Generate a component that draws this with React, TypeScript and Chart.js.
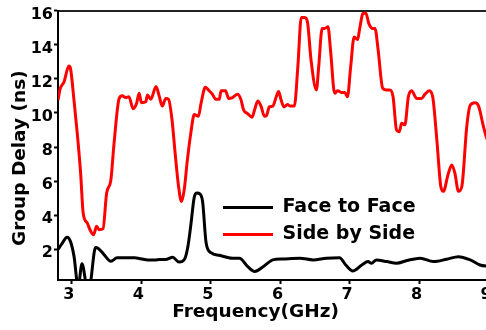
import React, { useEffect, useRef } from 'react';
import { Chart, registerables } from 'chart.js';

Chart.register(...registerables);

const seriesNames = ['Face to Face', 'Side by Side'];

const faceFreq = [2.80, 2.86, 2.93, 2.98, 3.03, 3.09, 3.145, 3.22, 3.25, 3.34, 3.38, 3.46, 3.56, 3.65, 3.75, 3.90, 3.99, 4.09, 4.19, 4.26, 4.37, 4.45, 4.54, 4.62, 4.67, 4.71, 4.76, 4.80, 4.84, 4.88, 4.93, 5.00, 5.12, 5.31, 5.41, 5.53, 5.63, 5.75, 5.89, 6.03, 6.28, 6.47, 6.66, 6.85, 6.94, 7.04, 7.17, 7.26, 7.31, 7.38, 7.53, 7.67, 7.82, 8.01, 8.20, 8.39, 8.56, 8.73, 8.87, 9.00];
const faceDelay = [2.0, 2.35, 2.7, 2.45, 1.6, -0.2, 1.15, -0.2, -0.2, 2.1, 2.05, 1.7, 1.3, 1.5, 1.5, 1.5, 1.45, 1.37, 1.37, 1.4, 1.42, 1.54, 1.25, 1.42, 2.2, 3.4, 5.05, 5.3, 5.25, 4.8, 2.4, 1.8, 1.65, 1.48, 1.48, 0.98, 0.7, 0.98, 1.38, 1.43, 1.48, 1.38, 1.48, 1.51, 1.08, 0.73, 1.08, 1.28, 1.18, 1.38, 1.28, 1.18, 1.34, 1.48, 1.28, 1.42, 1.57, 1.38, 1.08, 1.0];

const sideFreq = [2.80, 2.83, 2.885, 2.957, 2.98, 3.03, 3.077, 3.125, 3.163, 3.22, 3.26, 3.31, 3.356, 3.39, 3.447, 3.50, 3.56, 3.606, 3.68, 3.726, 3.775, 3.82, 3.88, 3.93, 3.967, 4.00, 4.063, 4.087, 4.135, 4.21, 4.255, 4.30, 4.35, 4.39, 4.44, 4.486, 4.534, 4.577, 4.616, 4.66, 4.71, 4.76, 4.82, 4.857, 4.92, 4.975, 5.02, 5.07, 5.12, 5.146, 5.21, 5.255, 5.31, 5.385, 5.434, 5.467, 5.53, 5.593, 5.626, 5.674, 5.72, 5.77, 5.80, 5.84, 5.89, 5.94, 5.973, 6.01, 6.05, 6.10, 6.14, 6.20, 6.25, 6.30, 6.35, 6.39, 6.44, 6.517, 6.55, 6.60, 6.636, 6.684, 6.72, 6.78, 6.82, 6.877, 6.925, 6.964, 7.01, 7.06, 7.11, 7.14, 7.19, 7.23, 7.27, 7.33, 7.36, 7.405, 7.47, 7.517, 7.574, 7.62, 7.67, 7.71, 7.743, 7.79, 7.84, 7.887, 7.96, 8.03, 8.08, 8.14, 8.19, 8.25, 8.306, 8.343, 8.415, 8.465, 8.51, 8.56, 8.61, 8.68, 8.73, 8.80, 8.85, 8.92, 8.96, 9.00];
const sideDelay = [10.75, 11.4, 11.8, 12.75, 12.6, 10.75, 8.8, 6.5, 4.1, 3.55, 3.15, 2.85, 3.35, 3.15, 3.2, 5.3, 6.05, 8.2, 10.85, 11.0, 10.9, 10.95, 10.25, 10.55, 11.15, 10.6, 10.65, 11.05, 10.8, 11.55, 11.0, 10.4, 10.85, 10.8, 9.6, 7.6, 5.7, 4.8, 5.5, 7.2, 8.8, 9.9, 9.8, 10.55, 11.5, 11.3, 11.1, 10.8, 10.8, 11.3, 11.3, 10.85, 10.9, 11.1, 10.75, 10.2, 9.95, 9.75, 10.15, 10.7, 10.4, 9.8, 9.85, 10.35, 10.4, 10.95, 11.25, 10.75, 10.35, 10.5, 10.4, 10.4, 12.7, 15.6, 15.6, 15.3, 13.1, 11.35, 12.7, 14.95, 14.95, 15.05, 13.7, 11.15, 11.3, 11.2, 11.2, 10.95, 12.7, 14.45, 14.3, 14.95, 15.85, 15.85, 15.25, 14.95, 14.95, 13.7, 11.45, 11.35, 11.35, 10.95, 9.0, 8.9, 9.4, 9.3, 10.95, 11.3, 10.85, 10.85, 11.1, 11.3, 10.95, 8.4, 5.7, 5.4, 6.45, 6.95, 6.45, 5.4, 5.7, 9.2, 10.45, 10.6, 10.4, 9.2, 8.6, 8.2];

const xTicks = [3, 4, 5, 6, 7, 8, 9];
const yTicks = [2, 4, 6, 8, 10, 12, 14, 16];
const xTitle = 'Frequency(GHz)';
const yTitle = 'Group Delay (ns)';

const FONT = '"DejaVu Sans", "Liberation Sans", Arial, sans-serif';

const legendPlacer = {
  id: 'legendPlacer',
  afterLayout(chart: any) {
    const l = chart.legend;
    if (!l) return;
    const w = l.width;
    const h = l.height;
    l.left = 215;
    l.top = 190;
    l.right = l.left + w;
    l.bottom = l.top + h;
  },
};

export default function App() {
  const ref = useRef<HTMLCanvasElement | null>(null);
  useEffect(() => {
    if (!ref.current) return;
    const toPts = (xs: number[], ys: number[]) => xs.map((x, i) => ({ x, y: ys[i] }));
    const chart = new Chart(ref.current, {
      type: 'line',
      data: {
        datasets: [
          {
            label: seriesNames[0],
            data: toPts(faceFreq, faceDelay),
            borderColor: '#000000',
            backgroundColor: '#000000',
            borderWidth: 3,
            pointRadius: 0,
            cubicInterpolationMode: 'monotone',
            clip: 0,
          },
          {
            label: seriesNames[1],
            data: toPts(sideFreq, sideDelay),
            borderColor: '#ff0000',
            backgroundColor: '#ff0000',
            borderWidth: 3,
            pointRadius: 0,
            cubicInterpolationMode: 'monotone',
            clip: 0,
          },
        ],
      },
      options: {
        responsive: false,
        animation: false,
        events: [],
        layout: { padding: { top: 10, right: 7, left: 0, bottom: 0 } },
        plugins: {
          tooltip: { enabled: false },
          legend: {
            position: 'chartArea',
            align: 'start',
            labels: {
              usePointStyle: true,
              pointStyle: 'line',
              pointStyleWidth: 50,
              padding: 8,
              color: '#000',
              font: { family: FONT, size: 19, weight: 'bold' },
            },
          },
        },
        scales: {
          x: {
            type: 'linear',
            position: 'bottom',
            min: 2.8,
            max: 9,
            afterBuildTicks: (s: any) => { s.ticks = xTicks.map((v) => ({ value: v })); },
            afterFit: (s: any) => { s.height = 50; },
            ticks: {
              autoSkip: false,
              maxRotation: 0,
              padding: 1,
              labelOffset: -3,
              color: '#000',
              font: { family: FONT, size: 16, weight: 'bold' },
            },
            grid: { display: true, drawOnChartArea: false, drawTicks: true, tickLength: 4, tickColor: '#000', tickWidth: 2 },
            border: { display: true, color: '#000', width: 2 },
            title: {
              display: true,
              text: xTitle + '     \u2009',
              color: '#000',
              font: { family: FONT, size: 18.5, weight: 'bold' },
              padding: { top: 0, bottom: 7 },
            },
          },
          x2: {
            type: 'linear',
            position: 'top',
            min: 2.8,
            max: 9,
            afterFit: (s: any) => { s.height = 0; },
            ticks: { display: false },
            grid: { display: true, drawOnChartArea: false, drawTicks: false },
            border: { display: true, color: '#222', width: 2 },
          },
          y: {
            type: 'linear',
            position: 'left',
            min: 0.2,
            max: 16,
            afterBuildTicks: (s: any) => { s.ticks = yTicks.map((v) => ({ value: v })); },
            afterFit: (s: any) => { s.width = 58; },
            ticks: {
              autoSkip: false,
              padding: 1,
              labelOffset: 4,
              color: '#000',
              font: { family: FONT, size: 16, weight: 'bold' },
            },
            grid: { display: true, drawOnChartArea: false, drawTicks: true, tickLength: 4, tickColor: '#000', tickWidth: 2 },
            border: { display: true, color: '#000', width: 2 },
            title: {
              display: true,
              text: yTitle + '    ',
              color: '#000',
              font: { family: FONT, size: 18.5, weight: 'bold' },
              padding: { top: 9, bottom: 0 },
            },
          },
        },
      } as any,
      plugins: [legendPlacer],
    });
    return () => chart.destroy();
  }, []);

  return (
    <div style={{ position: 'absolute', left: 0, top: 0, width: 486, height: 330, overflow: 'hidden', background: '#fff' }}>
      <canvas ref={ref} width={496} height={330} style={{ display: 'block', width: 496, height: 330 }} />
    </div>
  );
}
